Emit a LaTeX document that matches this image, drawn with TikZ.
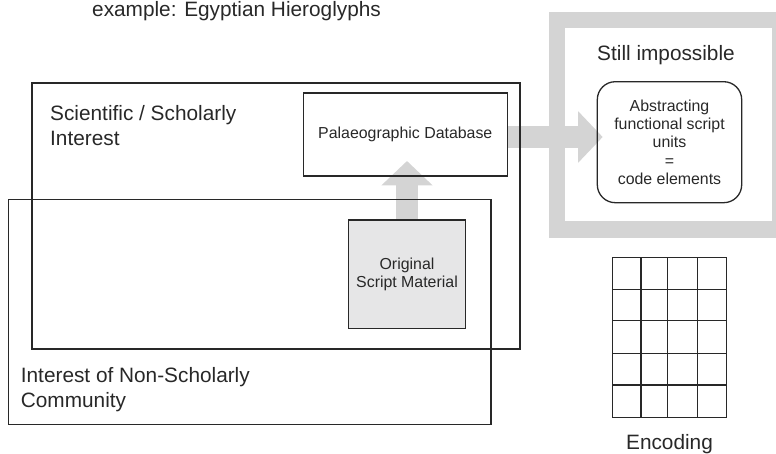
\documentclass[tikz,border=0pt]{standalone}
\usepackage{fontspec}
\setmainfont{Liberation Sans}
\usetikzlibrary{arrows.meta,fit}
\definecolor{shade}{RGB}{212,212,212}
\definecolor{paper}{RGB}{230,230,231}
\definecolor{ink}{RGB}{40,40,40}
\begin{document}
\begin{tikzpicture}[x=1pt,y=-1pt,
  every node/.style={text=ink},
  bigtext/.style={font=\fontsize{20.8}{25}\selectfont},
  smalltext/.style={font=\fontsize{15.9}{18.4}\selectfont},
  box/.style={draw=ink, line width=1.3pt, inner sep=0pt},
  fatarrow/.style={draw=shade, line width=21.5pt,
    -{Triangle[width=50pt,length=24.5pt]}},
  gridline/.style={draw=ink, line width=1.3pt}]
\useasboundingbox (0,0) rectangle (776,454);

% corner points of the two interest regions
\coordinate (s1) at (32,83);    \coordinate (s2) at (520,349);
\coordinate (n1) at (8.5,199.5); \coordinate (n2) at (491,424.5);
\coordinate (uptip) at (407,161);
\coordinate (righttip) at (602.7,137);

% grey frame around the still-impossible step
\node[draw=shade, line width=16.5pt, minimum width=223.7pt,
      minimum height=209.7pt, inner sep=0pt] (frame) at (668.85,124.85) {};

% boxes used as arrow anchors
\node[box, minimum width=204pt, minimum height=83pt, smalltext]
  (pal) at (405.3,134.5) {};
\node[box, fill=paper, minimum width=116.7pt, minimum height=108.3pt]
  (orig) at (407,274.2) {};

% broad grey arrows, drawn beneath the outlines
\draw[fatarrow] (orig.north) -- (uptip);
\draw[fatarrow] (pal.east |- righttip) -- (righttip);

% interest regions
\node[box, fit=(s1) (s2)] (sci) {};
\node[box, fit=(n1) (n2)] (non) {};

% boxes redrawn on top of the arrows
\node[box, minimum width=204pt, minimum height=83pt, smalltext]
  (palbox) at (405.3,134.5) {Palaeographic Database};
\node[box, fill=paper, minimum width=116.7pt, minimum height=108.3pt,
      smalltext, align=center] (origbox) at (407,274.2)
  {Original\\Script Material};
\node[box, rounded corners=18pt, minimum width=144.4pt,
      minimum height=121pt, smalltext, align=center]
  (abs) at (669.5,142.2)
  {Abstracting\\functional script\\units\\=\\code elements};

% labels (base anchor of a two-line label sits on its last line)
\node[bigtext, anchor=base west, inner sep=0pt] (example) at (92,16.5)
  {example: Egyptian Hieroglyphs};
\node[bigtext, anchor=base west, inner sep=0pt, align=left] (scilabel)
  at (50,145.7) {Scientific / Scholarly\\Interest};
\node[bigtext, anchor=base west, inner sep=0pt, align=left] (nonlabel)
  at (20.7,407.5) {Interest of Non-Scholarly\\Community};
\node[bigtext, anchor=base, inner sep=0pt] (still) at (666,61)
  {Still impossible};

% code table
\foreach \x in {612.3,641,667.7,697.7,726.7}
  \draw[gridline] (\x,257.3) -- (\x,417.7);
\foreach \y in {257.3,289.3,320.7,353.3,385,417.7}
  \draw[gridline] (612.3,\y) -- (726.7,\y);
\node[bigtext, anchor=base, inner sep=0pt] (enc) at (669.5,449)
  {Encoding};
\end{tikzpicture}
\end{document}
